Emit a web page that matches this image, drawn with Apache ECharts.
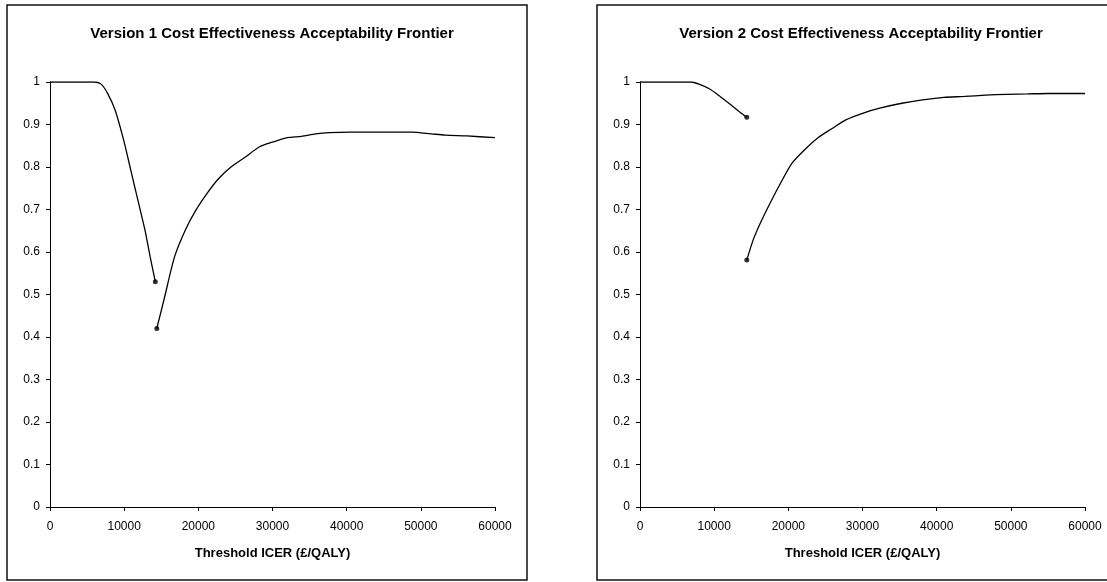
<!DOCTYPE html>
<html>
<head>
<meta charset="utf-8">
<title>CEAF</title>
<script src="https://cdn.jsdelivr.net/npm/echarts@6/dist/echarts.min.js"></script>
<style>
  html, body { margin: 0; padding: 0; background: #fff; }
  #chart { width: 1107px; height: 582px; }
</style>
</head>
<body>
<div id="chart"></div>
<script>
// threshold ICER values (x) and probability (y)
const v1Seg1X = [0, 5900, 6900, 7800, 8800, 9950, 10900, 11850, 12800, 13500, 14200];
const v1Seg1Y = [1, 1, 0.995, 0.972, 0.933, 0.862, 0.792, 0.722, 0.652, 0.589, 0.53];
const v1Seg2X = [14400, 15400, 16800, 18250, 19650, 21300, 22750, 24400, 26300, 28200, 30100,
  32000, 33900, 35800, 37700, 40500, 45300, 48800, 51400, 53300, 56200, 60000];
const v1Seg2Y = [0.42, 0.49, 0.589, 0.652, 0.698, 0.741, 0.773, 0.8, 0.823, 0.847, 0.859,
  0.869, 0.872, 0.878, 0.881, 0.882, 0.882, 0.882, 0.878, 0.875, 0.873, 0.869];

const v2Seg1X = [0, 6900, 7950, 9350, 10800, 12200, 13400, 14400];
const v2Seg1Y = [1, 1, 0.995, 0.984, 0.966, 0.947, 0.93, 0.917];
const v2Seg2X = [14400, 15250, 16200, 17400, 18800, 20450, 22100, 24000, 25850, 27750, 30100,
  32450, 35300, 38100, 40950, 43750, 46600, 49400, 52250, 55050, 60000];
const v2Seg2Y = [0.581, 0.628, 0.667, 0.71, 0.757, 0.808, 0.839, 0.869, 0.89, 0.911, 0.927,
  0.939, 0.95, 0.958, 0.964, 0.966, 0.969, 0.971, 0.972, 0.973, 0.973];

const titles = ['Version 1 Cost Effectiveness Acceptability Frontier', 'Version 2 Cost Effectiveness Acceptability Frontier'];
const xAxisTitle = 'Threshold ICER (£/QALY)';

const FONT = '"Liberation Sans", Arial, sans-serif';

const zip = (xs, ys) => xs.map((x, i) => [x, ys[i]]);

const chart = echarts.init(document.getElementById('chart'));

const xAxisBase = (gridIndex) => ({
  type: 'value',
  gridIndex,
  min: 0,
  max: 60000,
  interval: 10000,
  name: xAxisTitle,
  nameLocation: 'middle',
  nameGap: 40,
  nameTextStyle: { color: '#000', fontSize: 13, fontWeight: 'bold', fontFamily: FONT },
  axisLine: { lineStyle: { color: '#000', width: 1 } },
  axisTick: { length: 4, lineStyle: { color: '#000' } },
  axisLabel: { color: '#000', fontSize: 12, fontFamily: FONT, margin: 14, formatter: (v) => String(v) },
  splitLine: { show: false },
});

const yAxisBase = (gridIndex) => ({
  type: 'value',
  gridIndex,
  min: 0,
  max: 1,
  interval: 0.1,
  axisLine: { show: true, lineStyle: { color: '#000', width: 1 } },
  axisTick: { show: true, length: 4, lineStyle: { color: '#000' } },
  axisLabel: { color: '#000', fontSize: 12, fontFamily: FONT, margin: 10 },
  splitLine: { show: false },
});

const lineSeries = (idx, xs, ys) => ({
  type: 'line',
  xAxisIndex: idx,
  yAxisIndex: idx,
  data: zip(xs, ys),
  showSymbol: false,
  smooth: 0.25,
  lineStyle: { color: '#000', width: 1.3 },
  silent: true,
});

// end points of the two branches get a dot
const dotSeries = (idx, pts) => ({
  type: 'scatter',
  xAxisIndex: idx,
  yAxisIndex: idx,
  data: pts,
  symbol: 'circle',
  symbolSize: 5,
  itemStyle: { color: '#000' },
  silent: true,
});

const option = {
  animation: false,
  backgroundColor: '#fff',
  title: [
    {
      text: titles[0], left: 267, top: 21, textAlign: 'center',
      textStyle: { fontSize: 15, fontWeight: 'bold', color: '#000', fontFamily: FONT },
    },
    {
      text: titles[1], left: 856, top: 21, textAlign: 'center',
      textStyle: { fontSize: 15, fontWeight: 'bold', color: '#000', fontFamily: FONT },
    },
  ],
  graphic: [
    { type: 'rect', shape: { x: 7, y: 5, width: 520, height: 575 },
      style: { fill: 'none', stroke: '#111', lineWidth: 1.5 }, silent: true },
    { type: 'rect', shape: { x: 597, y: 5, width: 530, height: 575 },
      style: { fill: 'none', stroke: '#111', lineWidth: 1.5 }, silent: true },
  ],
  grid: [
    { left: 50, top: 82, width: 445, height: 425 },
    { left: 640, top: 82, width: 445, height: 425 },
  ],
  xAxis: [xAxisBase(0), xAxisBase(1)],
  yAxis: [yAxisBase(0), yAxisBase(1)],
  series: [
    lineSeries(0, v1Seg1X, v1Seg1Y),
    lineSeries(0, v1Seg2X, v1Seg2Y),
    dotSeries(0, [
      [v1Seg1X[v1Seg1X.length - 1], v1Seg1Y[v1Seg1Y.length - 1]],
      [v1Seg2X[0], v1Seg2Y[0]],
    ]),
    lineSeries(1, v2Seg1X, v2Seg1Y),
    lineSeries(1, v2Seg2X, v2Seg2Y),
    dotSeries(1, [
      [v2Seg1X[v2Seg1X.length - 1], v2Seg1Y[v2Seg1Y.length - 1]],
      [v2Seg2X[0], v2Seg2Y[0]],
    ]),
  ],
};

chart.setOption(option);
</script>
</body>
</html>
